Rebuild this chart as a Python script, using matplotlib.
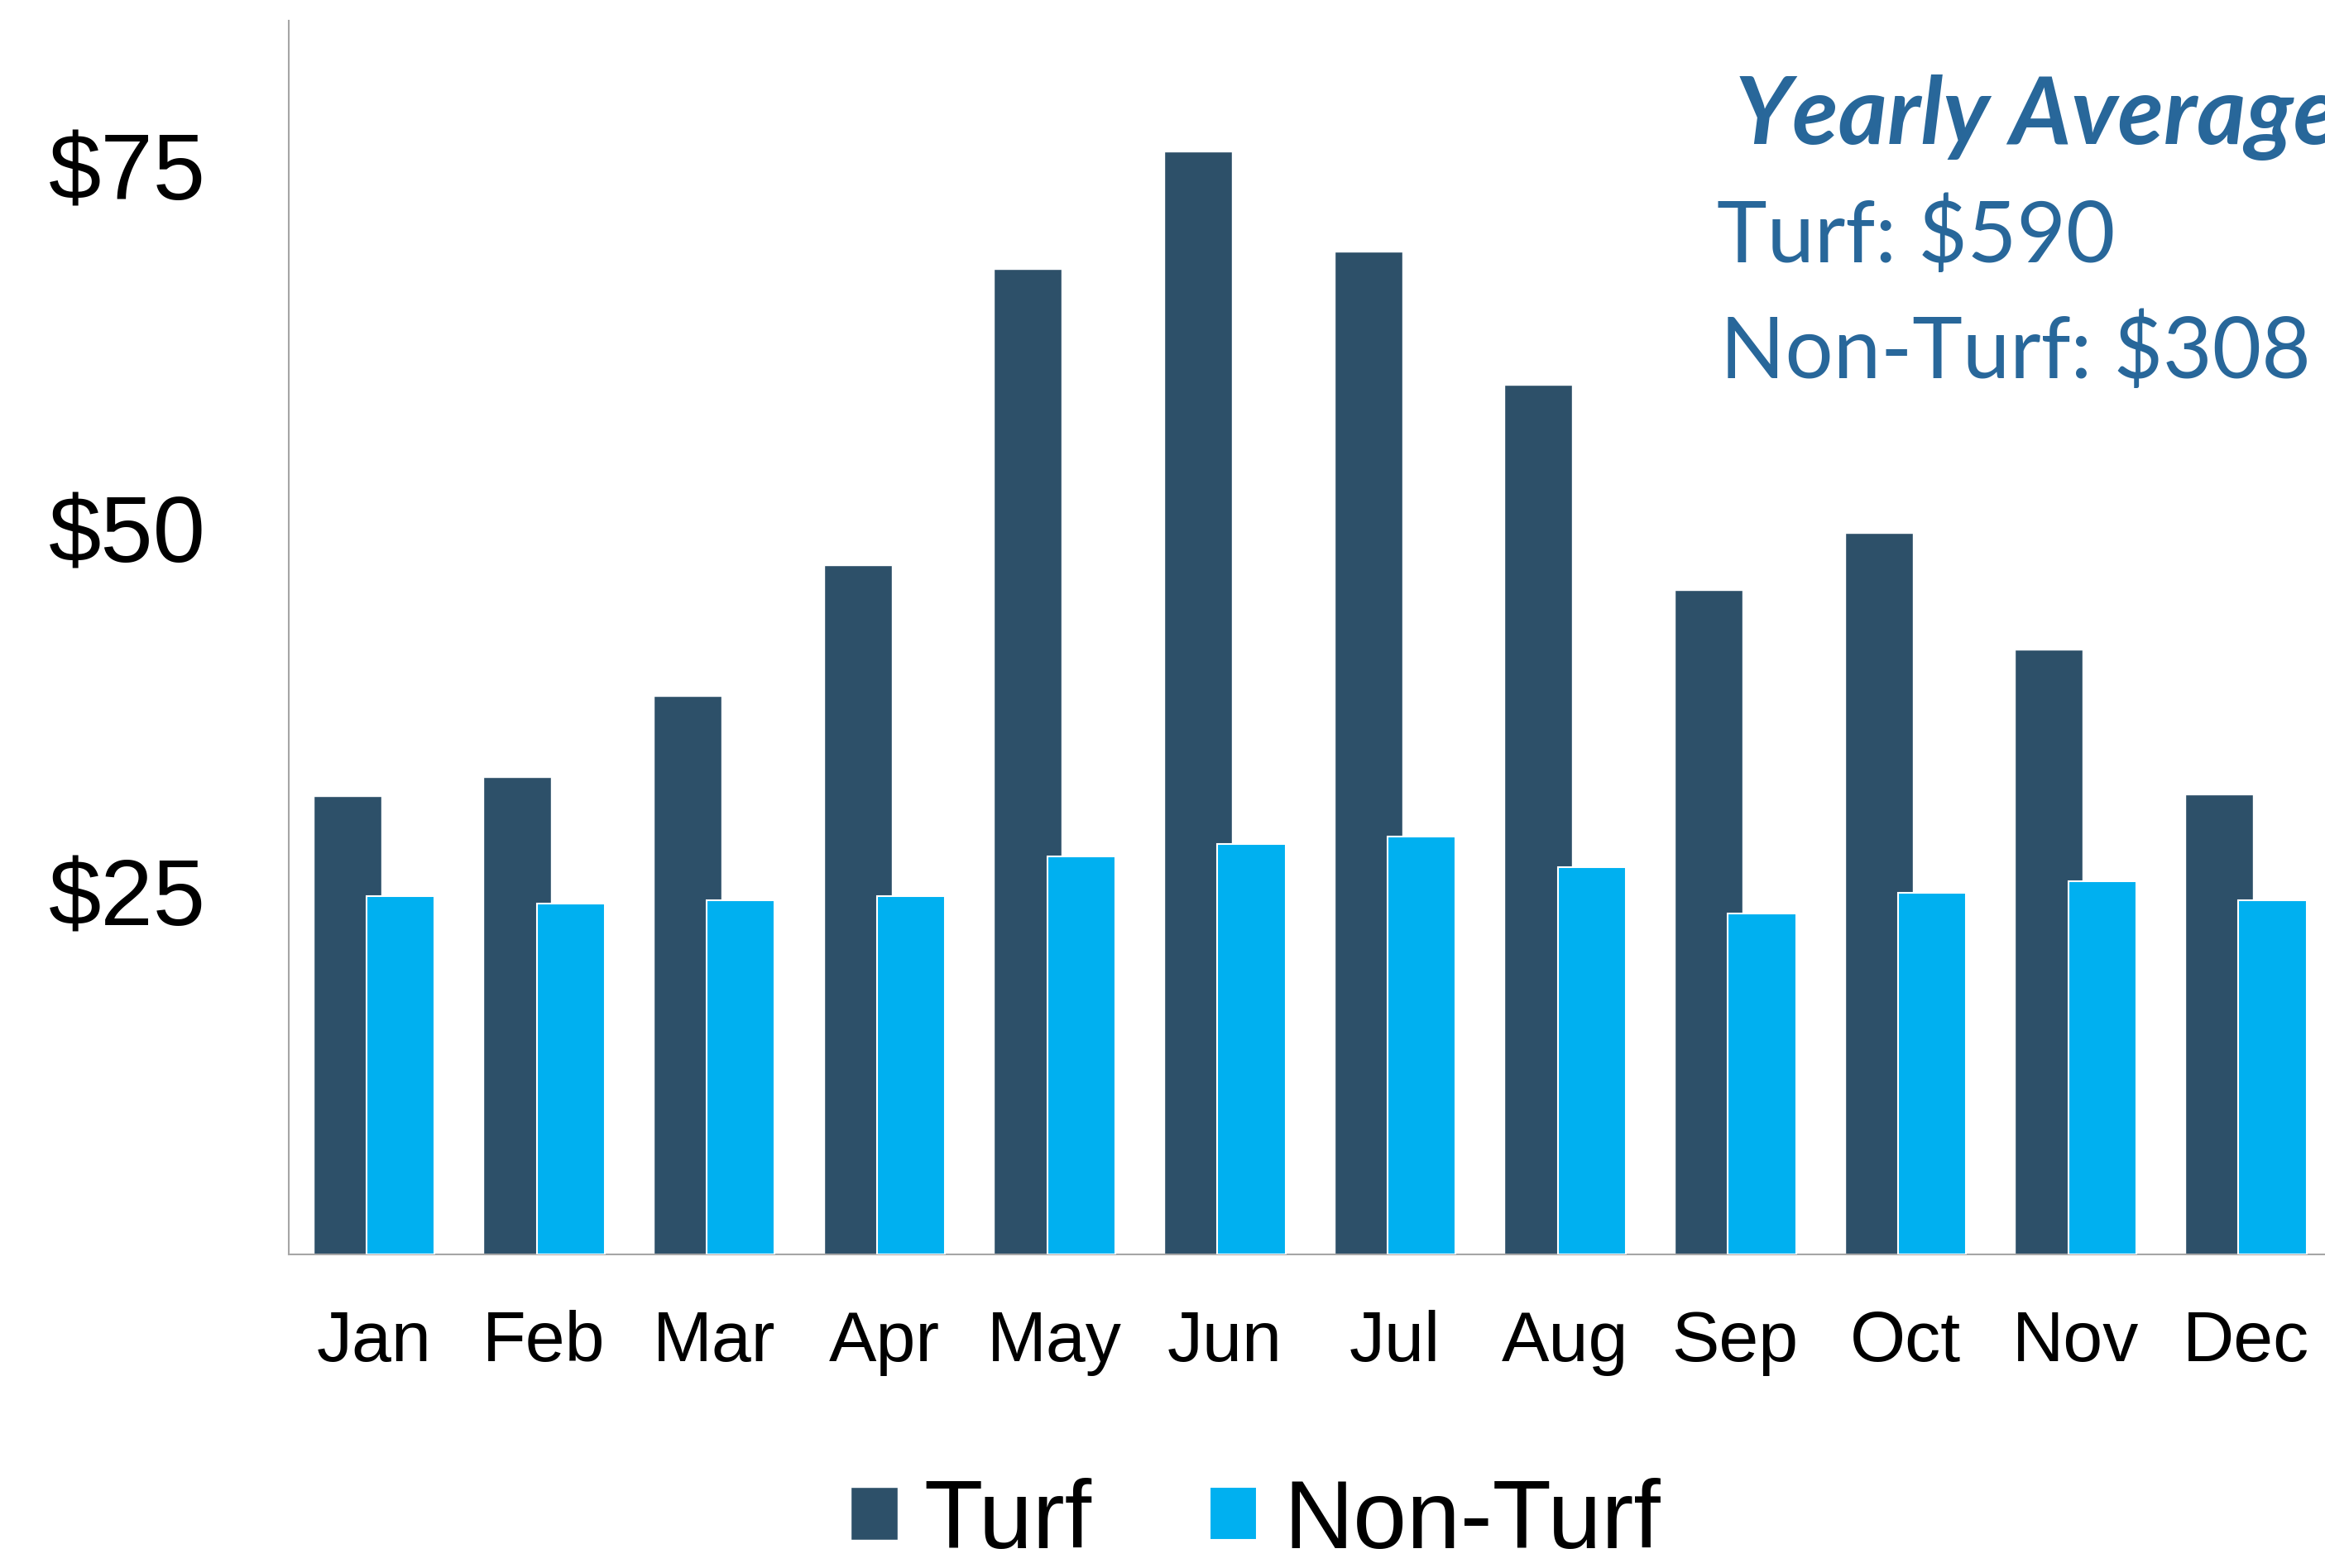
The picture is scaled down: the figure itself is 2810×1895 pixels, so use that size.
import matplotlib
matplotlib.use("Agg")
import matplotlib.pyplot as plt
import numpy as np

# Monthly average spend
months = ['Jan', 'Feb', 'Mar', 'Apr', 'May', 'Jun', 'Jul', 'Aug', 'Sep', 'Oct', 'Nov', 'Dec']
turf = [31.6, 32.9, 38.5, 47.5, 67.9, 76.0, 69.1, 59.9, 45.8, 49.7, 41.7, 31.7]
non_turf = [24.7, 24.2, 24.4, 24.7, 27.4, 28.3, 28.8, 26.7, 23.5, 24.9, 25.7, 24.4]
yticks = [25, 50, 75]
ytick_labels = ['$25', '$50', '$75']
avg_title = 'Yearly Average'
avg_lines = ['Turf: $590', 'Non-Turf: $308']

turf_color = '#2d5069'
non_turf_color = '#00b0f0'
text_blue = '#28679a'

plt.rcParams['font.family'] = ['Liberation Sans', 'DejaVu Sans']

fig = plt.figure(figsize=(28.1, 18.95), dpi=100)
ax = fig.add_axes([0.1242, 0.2000, 0.8783, 0.7868])

x = np.arange(len(months))
w = 0.40
ax.bar(x - 0.1565, turf, w, color=turf_color, edgecolor='white', linewidth=1, label='Turf', zorder=2)
ax.bar(x + 0.1565, non_turf, w, color=non_turf_color, edgecolor='white', linewidth=1.5, label='Non-Turf', zorder=3)

ax.set_xlim(-0.5, len(months) - 0.5)
ax.set_ylim(0, 85)
ax.set_xticks(x)
ax.set_xticklabels(months, fontsize=62)
ax.set_yticks(yticks)
ax.set_yticklabels(ytick_labels, fontsize=82)
ax.tick_params(axis='both', length=0)
ax.tick_params(axis='x', pad=48)
ax.tick_params(axis='y', pad=72)

for s in ['top', 'right']:
    ax.spines[s].set_visible(False)
for s in ['left', 'bottom']:
    ax.spines[s].set_color('#a6a6a6')
    ax.spines[s].set_linewidth(1.5)

fig.legend(loc='center', bbox_to_anchor=(0.54, 0.029), ncol=2, frameon=False,
           fontsize=84, handlelength=0.49, handleheight=0.47,
           handletextpad=0.27, columnspacing=1.22)

fig.text(0.7463, 0.9082, avg_title, family='Lato', fontsize=82, fontweight='bold',
         fontstyle='italic', color=text_blue, va='baseline')
fig.text(0.7384, 0.8327, avg_lines[0], family='Lato', fontsize=74, color=text_blue, va='baseline')
fig.text(0.7400, 0.7588, avg_lines[1], family='Lato', fontsize=74, color=text_blue, va='baseline')

fig.savefig('out.png', dpi=100)
